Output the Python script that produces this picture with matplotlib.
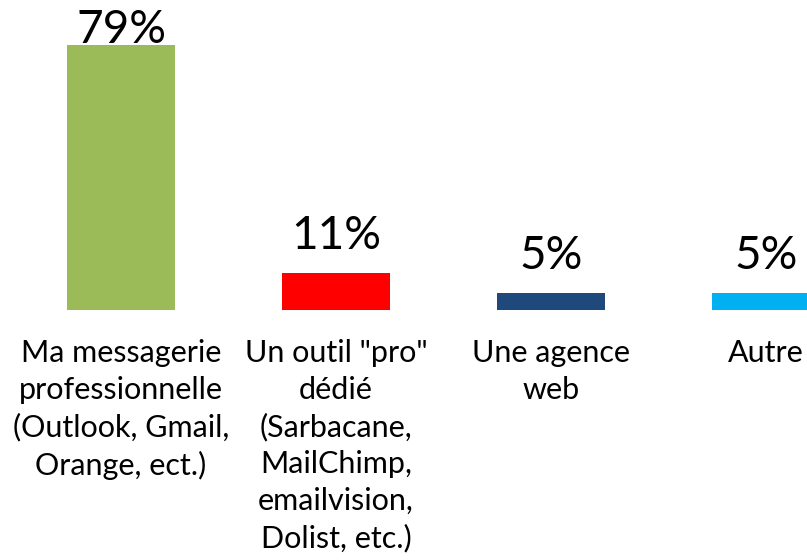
import matplotlib
matplotlib.use("Agg")
import matplotlib.pyplot as plt
from matplotlib.transforms import offset_copy

categories = [
    "Ma messagerie\nprofessionnelle\n(Outlook, Gmail,\nOrange, ect.)",
    "Un outil \"pro\"\ndédié\n(Sarbacane,\nMailChimp,\nemailvision,\nDolist, etc.)",
    "Une agence\nweb",
    "Autre",
]
values = [79, 11, 5, 5]
value_labels = ["79%", "11%", "5%", "5%"]
colors = ["#9BBB59", "#FF0000", "#1F497D", "#00B0F0"]

plt.rcParams["font.family"] = ["Lato", "DejaVu Sans"]

W, H = 807, 560
fig = plt.figure(figsize=(W / 100, H / 100), dpi=100)
base_px = 310
px_per_unit = 3.354
ax = fig.add_axes([0, 1 - base_px / H, 1, base_px / H])

x = list(range(len(values)))
ax.bar(x, values, width=0.5, color=colors)
ax.set_xlim(-121 / 215, (W - 121) / 215)
ytop = base_px / px_per_unit
ax.set_ylim(0, ytop)
ax.axis("off")

label_max = ytop - 43 / px_per_unit
for xi, v, lab in zip(x, values, value_labels):
    y = min(v + 24 / px_per_unit, label_max)
    ax.text(xi, y, lab, ha="center", va="baseline", fontsize=33, color="black")

trans = offset_copy(ax.get_xaxis_transform(), fig=fig, x=0, y=-29, units="dots")
for xi, cat in zip(x, categories):
    ax.text(xi, 0, cat, ha="center", va="top", fontsize=22, color="black",
            linespacing=1.38, transform=trans, clip_on=False)

fig.savefig("out.png", dpi=100)
